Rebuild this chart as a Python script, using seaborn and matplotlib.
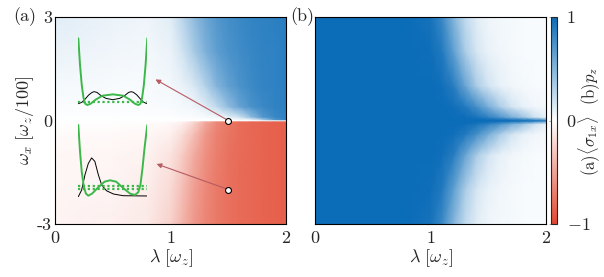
import numpy as np
import pandas as pd
import matplotlib
matplotlib.use("Agg")
import matplotlib.pyplot as plt
import seaborn as sns

# === DATA ===
lam = [0, 0.5, 0.8, 1.0, 1.1, 1.2, 1.3, 1.4, 1.5, 1.6, 1.7, 1.8, 1.9, 2.0]
omega = [-3, -2, -1, -0.4, -0.1, -0.03, 0, 0.03, 0.1, 0.4, 1, 2, 3]

# (a) <sigma_1x>, rows follow omega (bottom -> top)
sigma_1x = [
    [-0.06, -0.08, -0.12, -0.25, -0.40, -0.55, -0.65, -0.72, -0.77, -0.80, -0.82, -0.84, -0.85, -0.86],
    [-0.05, -0.06, -0.10, -0.20, -0.35, -0.52, -0.64, -0.72, -0.77, -0.80, -0.82, -0.84, -0.85, -0.86],
    [-0.04, -0.05, -0.07, -0.15, -0.28, -0.45, -0.60, -0.70, -0.76, -0.80, -0.82, -0.84, -0.85, -0.86],
    [-0.03, -0.03, -0.04, -0.08, -0.18, -0.35, -0.55, -0.68, -0.75, -0.79, -0.82, -0.84, -0.85, -0.86],
    [-0.01, -0.01, -0.02, -0.04, -0.10, -0.25, -0.48, -0.65, -0.74, -0.79, -0.82, -0.84, -0.85, -0.86],
    [0.00, 0.00, -0.01, -0.02, -0.06, -0.20, -0.45, -0.63, -0.73, -0.78, -0.82, -0.84, -0.85, -0.86],
    [0.00, 0.00, 0.00, 0.00, 0.00, 0.00, 0.00, 0.00, 0.00, 0.00, 0.00, 0.00, 0.00, 0.00],
    [0.00, 0.00, 0.00, 0.00, 0.00, 0.00, 0.00, 0.01, 0.02, 0.04, 0.10, 0.35, 0.70, 0.85],
    [0.01, 0.01, 0.01, 0.01, 0.02, 0.02, 0.03, 0.05, 0.10, 0.20, 0.45, 0.70, 0.80, 0.85],
    [0.02, 0.02, 0.02, 0.03, 0.04, 0.06, 0.12, 0.25, 0.45, 0.62, 0.74, 0.80, 0.84, 0.86],
    [0.04, 0.03, 0.03, 0.05, 0.08, 0.15, 0.30, 0.50, 0.64, 0.73, 0.79, 0.83, 0.85, 0.86],
    [0.08, 0.06, 0.05, 0.08, 0.18, 0.35, 0.52, 0.65, 0.73, 0.78, 0.82, 0.84, 0.85, 0.86],
    [0.12, 0.08, 0.07, 0.12, 0.28, 0.45, 0.60, 0.70, 0.76, 0.80, 0.83, 0.85, 0.86, 0.87],
]

# (b) p_z, rows follow omega (bottom -> top)
p_z = [
    [1, 1, 1, 0.95, 0.80, 0.50, 0.25, 0.12, 0.07, 0.05, 0.04, 0.03, 0.03, 0.03],
    [1, 1, 1, 0.98, 0.90, 0.65, 0.35, 0.17, 0.09, 0.06, 0.04, 0.03, 0.03, 0.03],
    [1, 1, 1, 1, 0.97, 0.88, 0.62, 0.35, 0.18, 0.10, 0.06, 0.04, 0.03, 0.03],
    [1, 1, 1, 1, 1, 0.97, 0.90, 0.75, 0.55, 0.35, 0.18, 0.10, 0.06, 0.04],
    [1, 1, 1, 1, 1, 1, 0.98, 0.93, 0.85, 0.72, 0.55, 0.40, 0.20, 0.10],
    [1, 1, 1, 1, 1, 1, 1, 0.99, 0.97, 0.94, 0.90, 0.85, 0.75, 0.60],
    [1, 1, 1, 1, 1, 1, 1, 1, 1, 1, 0.98, 0.96, 0.94, 0.92],
    [1, 1, 1, 1, 1, 1, 1, 0.99, 0.97, 0.94, 0.90, 0.85, 0.75, 0.60],
    [1, 1, 1, 1, 1, 1, 0.98, 0.93, 0.85, 0.72, 0.55, 0.40, 0.20, 0.10],
    [1, 1, 1, 1, 1, 0.97, 0.90, 0.75, 0.55, 0.35, 0.18, 0.10, 0.06, 0.04],
    [1, 1, 1, 1, 0.97, 0.88, 0.62, 0.35, 0.18, 0.10, 0.06, 0.04, 0.03, 0.03],
    [1, 1, 1, 0.98, 0.90, 0.65, 0.35, 0.17, 0.09, 0.06, 0.04, 0.03, 0.03, 0.03],
    [1, 1, 1, 0.95, 0.80, 0.50, 0.25, 0.12, 0.07, 0.05, 0.04, 0.03, 0.03, 0.03],
]

# marked points and arrow heads in panel (a)
point_lam = [1.5, 1.5]
point_omega = [0.0, -2.0]
arrow_lam = [0.87, 0.88]
arrow_omega = [1.19, -1.26]

# inset curves (normalised position u, height v)
up_pot_u = [0, 0.025, 0.05, 0.075, 0.1, 0.13, 0.18, 0.25, 0.35, 0.5, 0.65, 0.75, 0.82, 0.87, 0.9, 0.925, 0.95, 0.975, 1.0]
up_pot_v = [1.0, 0.6, 0.3, 0.11, 0.02, 0.0, 0.02, 0.08, 0.14, 0.16, 0.14, 0.08, 0.02, 0.0, 0.02, 0.11, 0.3, 0.6, 1.0]
up_wf_u = [0, 0.05, 0.1, 0.15, 0.2, 0.23, 0.27, 0.33, 0.4, 0.5, 0.6, 0.67, 0.73, 0.77, 0.8, 0.85, 0.9, 0.95, 1.0]
up_wf_v = [0.02, 0.04, 0.09, 0.15, 0.19, 0.2, 0.19, 0.14, 0.1, 0.08, 0.1, 0.14, 0.19, 0.2, 0.19, 0.15, 0.09, 0.04, 0.02]
up_levels = [0.04]

lo_pot_u = [0, 0.025, 0.05, 0.08, 0.11, 0.145, 0.2, 0.28, 0.38, 0.46, 0.55, 0.65, 0.75, 0.82, 0.87, 0.9, 0.93, 0.96, 1.0]
lo_pot_v = [1.0, 0.62, 0.33, 0.12, 0.02, -0.01, 0.02, 0.1, 0.19, 0.21, 0.19, 0.1, 0.02, 0.0, 0.04, 0.14, 0.38, 0.67, 1.0]
lo_wf_u = [0, 0.048, 0.097, 0.145, 0.193, 0.24, 0.29, 0.34, 0.41, 0.51, 0.65, 1.0]
lo_wf_v = [-0.024, 0.07, 0.29, 0.45, 0.53, 0.48, 0.29, 0.14, 0.06, 0.014, -0.01, -0.014]
lo_levels = [0.086, 0.133]

# === STYLE ===
sns.set_theme(style="ticks")
plt.rcParams["font.family"] = ["cmr10", "DejaVu Serif"]
plt.rcParams["mathtext.fontset"] = "cm"
plt.rcParams["axes.unicode_minus"] = False
FS = 13
plt.rcParams["font.size"] = FS

BLUE = "#0b6cb8"
RED = "#e2472f"
GREEN = "#3cb84a"
ARROW = "#b85a62"
cmap = sns.blend_palette([RED, "#ffffff", BLUE], n_colors=256, as_cmap=True)

W, H = 604, 277
fig = plt.figure(figsize=(W / 100, H / 100), dpi=100)


def px_axes(x0, x1, ytop, ybot):
    return fig.add_axes([x0 / W, 1 - ybot / H, (x1 - x0) / W, (ybot - ytop) / H])


ax_a = px_axes(55, 286, 17, 224)
ax_b = px_axes(315, 546, 17, 224)
cax = px_axes(551, 557, 17, 224)

X, Y = np.meshgrid(lam, omega)
mesh_a = ax_a.pcolormesh(X, Y, np.array(sigma_1x), cmap=cmap, vmin=-1, vmax=1,
                         shading="gouraud", rasterized=True)
mesh_b = ax_b.pcolormesh(X, Y, np.array(p_z), cmap=cmap, vmin=-1, vmax=1,
                         shading="gouraud", rasterized=True)

for ax in (ax_a, ax_b):
    ax.set_xlim(0, 2)
    ax.set_ylim(-3, 3)
    ax.set_xticks([0, 1, 2])
    ax.set_xticklabels(["0", "1", "2"])
    ax.set_yticks([-3, 0, 3])
    ax.tick_params(direction="in", length=3, width=0.6, color="0.6",
                   top=True, right=True, labelsize=FS)
    ax.tick_params(axis="x", pad=5)
    ax.tick_params(axis="y", pad=2)
    for s in ax.spines.values():
        s.set_linewidth(0.8)
        s.set_color("black")

ax_a.set_yticklabels(["-3", "0", "3"])
ax_b.set_yticklabels([])

# arrows + markers in (a)
for l0, o0, l1, o1 in zip(point_lam, point_omega, arrow_lam, arrow_omega):
    ax_a.annotate("", xy=(l1, o1), xytext=(l0, o0),
                  arrowprops=dict(arrowstyle="-|>", color=ARROW, lw=0.8,
                                  mutation_scale=7, shrinkA=2, shrinkB=0))
pts = pd.DataFrame({"lam": point_lam, "omega": point_omega})
sns.scatterplot(data=pts, x="lam", y="omega", ax=ax_a, s=18, color="white",
                edgecolor="black", linewidth=0.8, zorder=5, legend=False)
for ax in (ax_a, ax_b):
    ax.set_xlabel(r"$\lambda\ [\omega_z]$", fontsize=FS, labelpad=1)
ax_a.set_ylabel(r"$\omega_x\ [\omega_z/100]$", fontsize=FS, labelpad=1)

# insets
ins_up = px_axes(78.3, 147.3, 35.0, 111.7)
ins_lo = px_axes(78.3, 147.3, 121.5, 202.0)
for ins, pu, pv, wu, wv, levels in (
        (ins_up, up_pot_u, up_pot_v, up_wf_u, up_wf_v, up_levels),
        (ins_lo, lo_pot_u, lo_pot_v, lo_wf_u, lo_wf_v, lo_levels)):
    sns.lineplot(x=wu, y=wv, ax=ins, color="black", lw=0.7, sort=False)
    sns.lineplot(x=pu, y=pv, ax=ins, color=GREEN, lw=1.4, sort=False)
    for lv in levels:
        ins.hlines(lv, 0, 1, color=GREEN, lw=1.6, linestyles=(0, (1, 1.2)))
    ins.set_xlim(0, 1)
    ins.set_ylim(-0.1, 1.05)
    ins.axis("off")
    ins.patch.set_alpha(0)

# colorbar
cb = fig.colorbar(mesh_b, cax=cax)
cb.set_ticks([-1, 0, 1])
cb.set_ticklabels([r"$-1$", "0", "1"])
cb.ax.tick_params(direction="in", length=6, width=0.6, color="0.6", pad=7, labelsize=FS)
cb.outline.set_linewidth(0.8)
fig.text(589 / W, 1 - 121 / H, r"(a)$\langle\sigma_{1x}\rangle$  (b)$p_z$",
         fontsize=12, rotation=90, va="center", ha="center")

fig.text(13 / W, 1 - 17 / H, "(a)", fontsize=FS, va="center", ha="left")
fig.text(290 / W, 1 - 17 / H, "(b)", fontsize=FS, va="center", ha="left")

fig.savefig("out.png", dpi=100)
